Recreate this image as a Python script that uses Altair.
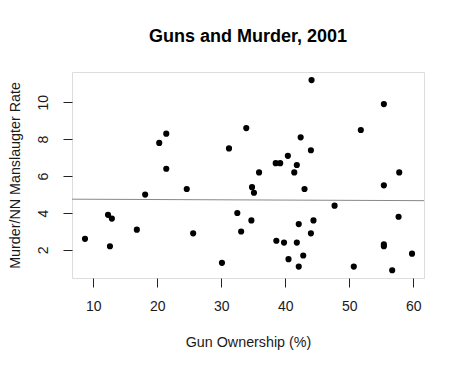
import altair as alt
import pandas as pd

gun_ownership = [8.7, 12.3, 12.9, 12.6, 16.8, 18.1, 20.3, 21.4, 21.4, 24.6,
                 25.6, 30.1, 31.2, 32.5, 33.1, 33.9, 34.7, 34.8, 35.1, 35.9,
                 38.5, 39.2, 38.6, 39.8, 40.4, 40.5, 41.4, 41.8, 41.8, 42.1,
                 42.1, 42.4, 42.8, 43.0, 44.0, 44.0, 44.1, 44.4, 47.7, 50.7,
                 51.8, 55.4, 55.4, 55.4, 55.4, 56.7, 57.7, 57.8, 59.8]
murder_rate = [2.6, 3.9, 3.7, 2.2, 3.1, 5.0, 7.8, 8.3, 6.4, 5.3,
               2.9, 1.3, 7.5, 4.0, 3.0, 8.6, 3.6, 5.4, 5.1, 6.2,
               6.7, 6.7, 2.5, 2.4, 7.1, 1.5, 6.2, 6.6, 2.4, 3.4,
               1.1, 8.1, 1.7, 5.3, 7.4, 2.9, 11.2, 3.6, 4.4, 1.1,
               8.5, 9.9, 5.5, 2.3, 2.2, 0.9, 3.8, 6.2, 1.8]

line_x = [6.67, 61.67]
line_y = [4.75, 4.67]

x_ticks = [10, 20, 30, 40, 50, 60]
y_ticks = [2, 4, 6, 8, 10]

pts = pd.DataFrame({"x": gun_ownership, "y": murder_rate})
ln = pd.DataFrame({"x": line_x, "y": line_y})

FONT = "Liberation Sans"
TXT = "#1a1a1a"

xscale = alt.Scale(domain=[6.67, 61.67], nice=False, zero=False)
yscale = alt.Scale(domain=[0.48, 11.64], nice=False, zero=False)

xaxis = alt.Axis(values=x_ticks, grid=False, domain=False, tickSize=9,
                 tickColor="#222", labelFont=FONT, labelFontSize=14,
                 labelColor=TXT, labelBaseline="middle", labelPadding=19,
                 title="Gun Ownership (%)", titleFont=FONT, titleFontSize=14.3,
                 titleFontWeight="normal", titleColor=TXT,
                 titleBaseline="middle", titleY=64)
yaxis = alt.Axis(values=y_ticks, grid=False, domain=False, tickSize=9,
                 tickColor="#222", labelFont=FONT, labelFontSize=14,
                 labelColor=TXT, labelAngle=270, labelAlign="center",
                 labelBaseline="middle", labelPadding=20,
                 title="Murder/NN Manslaugter Rate", titleFont=FONT,
                 titleFontSize=14.3, titleFontWeight="normal", titleColor=TXT,
                 titleBaseline="middle", titleX=-57, titleY=103, titleAngle=270)

points = alt.Chart(pts).mark_circle(size=38, color="black", opacity=1).encode(
    x=alt.X("x:Q", scale=xscale, axis=xaxis),
    y=alt.Y("y:Q", scale=yscale, axis=yaxis),
)
line = alt.Chart(ln).mark_line(color="#888888", strokeWidth=1, clip=True).encode(
    x=alt.X("x:Q", scale=xscale),
    y=alt.Y("y:Q", scale=yscale),
)

chart = alt.layer(line, points).properties(
    width=352, height=206,
    title=alt.TitleParams("Guns and Murder, 2001", font=FONT, fontSize=18,
                          fontWeight="bold", color="black", anchor="middle",
                          offset=26),
    autosize=alt.AutoSizeParams(type="none"),
    padding={"left": 64, "top": 64, "right": 30, "bottom": 83},
).configure_view(stroke="black", strokeWidth=1).configure(background="white")

chart.save("out.html", embed_options={"renderer": "svg", "actions": False})
